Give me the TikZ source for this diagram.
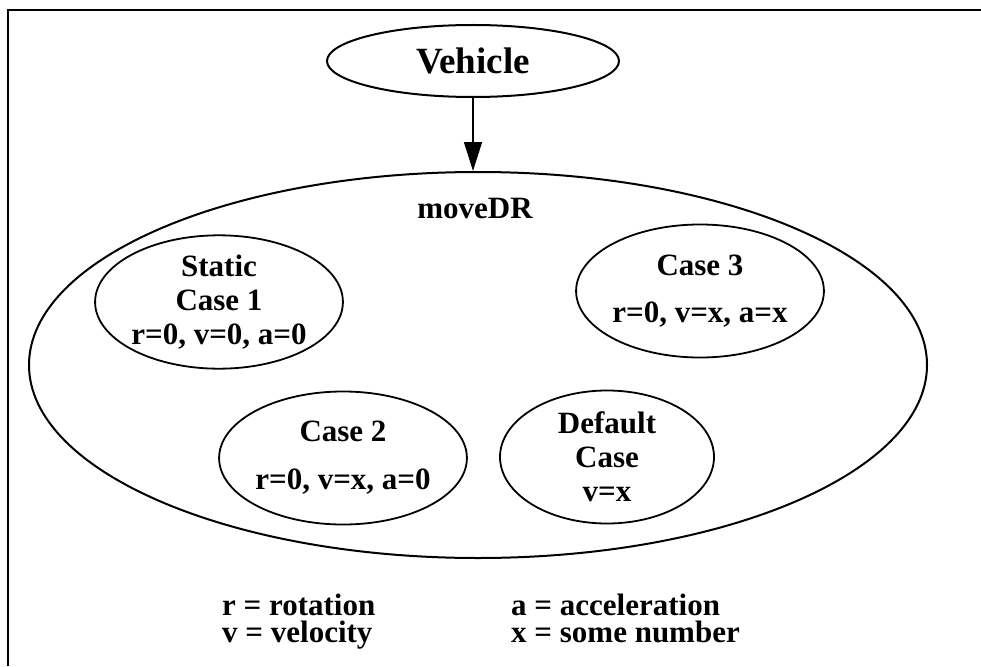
\documentclass[tikz,border=0pt]{standalone}
\usepackage{fontspec}
\setmainfont{Liberation Serif}
\usetikzlibrary{shapes.geometric,arrows.meta}
\begin{document}
\begin{tikzpicture}[x=1pt, y=-1pt]
    % Define styles
    \tikzset{
        outerstate/.style={draw, ellipse, line width=2pt, inner sep=0pt},
        casestate/.style={draw, ellipse, line width=1.8pt, inner sep=0pt, minimum width=222pt, minimum height=133pt, align=center, font=\fontsize{31}{34}\selectfont\bfseries},
        legendtext/.style={anchor=base west, inner sep=0pt, align=left, font=\fontsize{31}{27}\selectfont\bfseries},
        thickarrow/.style={-{Triangle[length=29pt, width=18pt]}, line width=1.5pt}
    }
    \useasboundingbox (0,0) rectangle (981,666);

    % Frame
    \draw[line width=2.6pt] (8,666) -- (8,10) -- (981,10);

    % Vehicle and moveDR
    \node[outerstate, minimum width=292pt, minimum height=72pt, font=\fontsize{37}{40}\selectfont\bfseries] (vehicle) at (473,61) {Vehicle};
    \node[outerstate, minimum width=898pt, minimum height=386pt] (movedr) at (478,365) {};
    \node[anchor=base, font=\fontsize{31}{34}\selectfont\bfseries] (movedrlabel) at (475,218) {moveDR};
    \draw[thickarrow] (vehicle.south) -- (vehicle.south |- movedr.north);

    % Cases
    \node[casestate] (static) at (219,302) {Static\\Case 1\\r=0, v=0, a=0};
    \node[casestate] (case3) at (700,291) {Case 3\\[13pt]r=0, v=x, a=x};
    \node[casestate] (case2) at (343,458) {Case 2\\[14pt]r=0, v=x, a=0};
    \node[casestate, minimum width=214pt] (default) at (607,457) {Default\\Case\\v=x};

    % Legend
    \node[legendtext] (leftlegend) at (222,642) {r = rotation\\v = velocity};
    \node[legendtext] (rightlegend) at (511,642) {a = acceleration\\x = some number};
\end{tikzpicture}
\end{document}
